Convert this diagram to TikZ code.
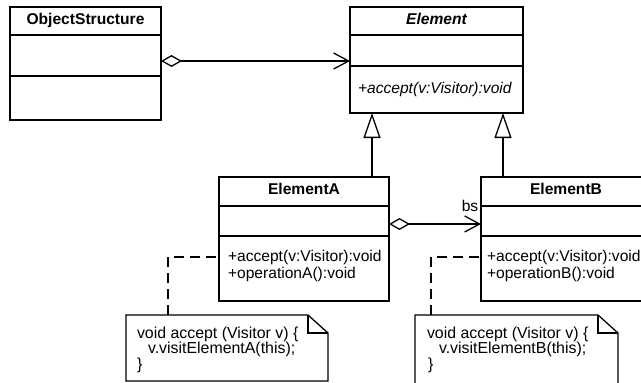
\documentclass[tikz,border=0pt]{standalone}
\usepackage{fontspec}
\setmainfont{Liberation Sans}
\usetikzlibrary{arrows.meta}

\tikzset{
  x=1pt, y=-1pt,
  every node/.style={inner sep=0pt, outer sep=0pt, font=\fontsize{15.6pt}{16.5pt}\selectfont},
  classbox/.style={draw, line width=1.3pt, anchor=north west, fill=white},
  txt/.style={anchor=base west},
  notetxt/.style={anchor=base west, font=\fontsize{15.9pt}{16.5pt}\selectfont},
  ttl/.style={anchor=base, font=\fontsize{15.6pt}{16.5pt}\selectfont\bfseries},
  divider/.style={line width=1.3pt},
  assoc/.style={line width=1.3pt,
    {Diamond[open, length=21pt, width=12pt, line width=1.3pt]}-{Straight Barb[length=15pt, width=16pt, line width=1.3pt]}},
  inherit/.style={line width=1.3pt, -{Triangle[open, length=25pt, width=17pt, line width=1.3pt]}},
  notebox/.style={anchor=north west},
  noteline/.style={line width=1.3pt, line join=miter},
  notelink/.style={line width=1.3pt, dash pattern=on 10pt off 6pt},
}

\begin{document}
\begin{tikzpicture}
\useasboundingbox (0,0) rectangle (641,383);

% ---- class boxes ----
\node[classbox, minimum width=151pt, minimum height=113pt] (os) at (10,7) {};
\draw[divider] (10,35) -- (161,35);
\draw[divider] (10,76) -- (161,76);
\node[ttl] (osname) at (85.5,24) {ObjectStructure};

\node[classbox, minimum width=173pt, minimum height=106pt] (el) at (350,7) {};
\draw[divider] (350,35) -- (523,35);
\draw[divider] (350,66) -- (523,66);
\node[ttl, font=\fontsize{15.6pt}{16.5pt}\selectfont\bfseries\itshape] (elname) at (436.5,24) {Element};
\node[txt, font=\fontsize{15.6pt}{16.5pt}\selectfont\itshape] (elop) at (358,93) {+accept(v:Visitor):void};

\node[classbox, minimum width=170pt, minimum height=124pt] (ea) at (219,177) {};
\draw[divider] (219,206) -- (389,206);
\draw[divider] (219,236) -- (389,236);
\node[ttl] (eaname) at (304,194) {ElementA};
\node[txt] (eaop1) at (228,261) {+accept(v:Visitor):void};
\node[txt] (eaop2) at (228,278) {+operationA():void};

\node[classbox, minimum width=170pt, minimum height=124pt] (eb) at (481,177) {};
\draw[divider] (481,206) -- (651,206);
\draw[divider] (481,236) -- (651,236);
\node[ttl] (ebname) at (566,194) {ElementB};
\node[txt] (ebop1) at (487,261) {+accept(v:Visitor):void};
\node[txt] (ebop2) at (487,278) {+operationB():void};

% ---- associations ----
\draw[assoc] (os.east |- 0,61) -- (el.west |- 0,61);
\draw[assoc] (ea.east |- 0,224) -- (eb.west |- 0,224);
\node[anchor=base] (bs) at (470,211) {bs};

% ---- generalisations ----
\draw[inherit] (ea.north -| 372,0) -- (el.south -| 372,0);
\draw[inherit] (eb.north -| 503,0) -- (el.south -| 503,0);

% ---- notes ----
\node[notebox, minimum width=202pt, minimum height=66pt] (na) at (126,315) {};
\draw[noteline] (na.south west) -- (na.north west) -- ([xshift=-20pt]na.north east)
  -- ([yshift=-18pt]na.north east) -- (na.south east) -- cycle;
\draw[noteline] ([xshift=-20pt]na.north east) |- ([yshift=-18pt]na.north east);
\node[notetxt] (na1) at (137,338) {void accept (Visitor v) \{};
\node[notetxt] (na2) at (148,353.5) {v.visitElementA(this);};
\node[notetxt] (na3) at (137,369) {\}};

\node[notebox, minimum width=203pt, minimum height=80pt] (nb) at (415,315) {};
\draw[noteline] (nb.south west) -- (nb.north west) -- ([xshift=-20pt]nb.north east)
  -- ([yshift=-18pt]nb.north east) -- (nb.south east) -- cycle;
\draw[noteline] ([xshift=-20pt]nb.north east) |- ([yshift=-18pt]nb.north east);
\node[notetxt] (nb1) at (427,338) {void accept (Visitor v) \{};
\node[notetxt] (nb2) at (439,353.5) {v.visitElementB(this);};
\node[notetxt] (nb3) at (428,369) {\}};

% ---- note attachments ----
\coordinate (eaAttach) at (219,257);
\coordinate (ebAttach) at (481,257);
\draw[notelink] ([xshift=42pt]na.north west) |- (eaAttach);
\draw[notelink] ([xshift=16pt]nb.north west) |- (ebAttach);
\end{tikzpicture}
\end{document}
